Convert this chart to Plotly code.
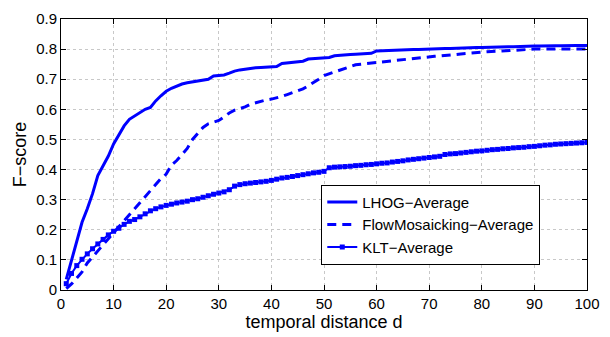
import plotly.graph_objects as go

d = list(range(1, 101))

lhog = [0.035, 0.100, 0.165, 0.225, 0.270, 0.320, 0.380, 0.410, 0.445, 0.485,
        0.515, 0.545, 0.567, 0.578, 0.589, 0.600, 0.606, 0.628, 0.645, 0.660,
        0.670, 0.677, 0.684, 0.688, 0.691, 0.694, 0.697, 0.700, 0.711, 0.712,
        0.714, 0.720, 0.727, 0.731, 0.734, 0.736, 0.738, 0.739, 0.740, 0.741,
        0.742, 0.752, 0.754, 0.756, 0.758, 0.760, 0.767, 0.768, 0.769, 0.770,
        0.772, 0.778, 0.780, 0.781, 0.782, 0.783, 0.784, 0.785, 0.786, 0.794,
        0.795, 0.795, 0.795, 0.796, 0.797, 0.798, 0.799, 0.799, 0.800, 0.800,
        0.801, 0.801, 0.802, 0.802, 0.803, 0.803, 0.804, 0.804, 0.805, 0.805,
        0.806, 0.806, 0.807, 0.807, 0.808, 0.808, 0.809, 0.809, 0.810, 0.810,
        0.810, 0.811, 0.811, 0.811, 0.811, 0.812, 0.812, 0.812, 0.812, 0.812]

flow = [0.005, 0.020, 0.040, 0.060, 0.090, 0.110, 0.130, 0.150, 0.170, 0.190,
        0.210, 0.230, 0.250, 0.270, 0.290, 0.310, 0.330, 0.350, 0.370, 0.385,
        0.415, 0.430, 0.450, 0.470, 0.500, 0.520, 0.540, 0.552, 0.558, 0.563,
        0.575, 0.588, 0.597, 0.603, 0.608, 0.617, 0.622, 0.628, 0.631, 0.634,
        0.638, 0.643, 0.649, 0.655, 0.662, 0.668, 0.678, 0.688, 0.700, 0.712,
        0.718, 0.725, 0.732, 0.738, 0.744, 0.748, 0.750, 0.752, 0.753, 0.755,
        0.757, 0.760, 0.762, 0.764, 0.766, 0.768, 0.769, 0.770, 0.772, 0.774,
        0.776, 0.777, 0.778, 0.780, 0.782, 0.784, 0.786, 0.787, 0.788, 0.790,
        0.791, 0.792, 0.793, 0.794, 0.795, 0.797, 0.799, 0.800, 0.800, 0.800,
        0.800, 0.800, 0.800, 0.800, 0.800, 0.800, 0.800, 0.800, 0.800, 0.800]

klt = [0.021, 0.055, 0.081, 0.102, 0.120, 0.137, 0.153, 0.168, 0.183, 0.195,
       0.205, 0.218, 0.228, 0.234, 0.243, 0.253, 0.263, 0.270, 0.276, 0.281,
       0.285, 0.289, 0.292, 0.295, 0.300, 0.303, 0.308, 0.313, 0.318, 0.322,
       0.326, 0.333, 0.345, 0.350, 0.353, 0.355, 0.357, 0.359, 0.361, 0.364,
       0.368, 0.372, 0.374, 0.377, 0.380, 0.383, 0.386, 0.389, 0.391, 0.394,
       0.406, 0.408, 0.409, 0.410, 0.411, 0.413, 0.414, 0.416, 0.417, 0.419,
       0.421, 0.422, 0.425, 0.427, 0.429, 0.432, 0.434, 0.436, 0.438, 0.440,
       0.442, 0.444, 0.450, 0.452, 0.453, 0.455, 0.457, 0.459, 0.461, 0.462,
       0.464, 0.466, 0.467, 0.469, 0.470, 0.472, 0.473, 0.474, 0.476, 0.477,
       0.479, 0.481, 0.482, 0.484, 0.485, 0.486, 0.487, 0.488, 0.489, 0.490]

names = ["LHOG\u2212Average", "FlowMosaicking\u2212Average", "KLT\u2212Average"]
x_ticks = list(range(0, 101, 10))
y_ticks = [round(0.1 * i, 1) for i in range(10)]
y_ticklabels = ["0"] + [f"{v:.1f}" for v in y_ticks[1:]]

blue = "#0000FF"
FONT = "Liberation Sans, Arial, Helvetica, sans-serif"

fig = go.Figure()
fig.add_trace(go.Scatter(x=d, y=lhog, name=names[0], mode="lines",
                         line=dict(color=blue, width=3)))
fig.add_trace(go.Scatter(x=d, y=flow, name=names[1], mode="lines",
                         line=dict(color=blue, width=3, dash="9px,6px")))
fig.add_trace(go.Scatter(x=d, y=klt, name=names[2], mode="lines+markers",
                         line=dict(color=blue, width=2),
                         marker=dict(symbol="square", size=5, color=blue)))

axis_common = dict(
    showline=True, linecolor="black", linewidth=1, mirror="ticks",
    ticks="inside", ticklen=5, tickcolor="black", tickwidth=1,
    showgrid=True, gridcolor="#c8c8c8", griddash="dot", gridwidth=1,
    zeroline=False, tickfont=dict(family=FONT, size=15, color="black"),
)

fig.update_xaxes(range=[0, 100], tickvals=x_ticks,
                 title=dict(text="temporal distance d",
                            font=dict(family=FONT, size=18, color="black"),
                            standoff=2),
                 **axis_common)
fig.update_yaxes(range=[0, 0.9], tickvals=y_ticks, ticktext=y_ticklabels,
                 title=dict(text="F\u2212score",
                            font=dict(family=FONT, size=18, color="black"),
                            standoff=4),
                 **axis_common)

fig.update_layout(
    width=610, height=337,
    margin=dict(l=61, r=22, t=10, b=43),
    paper_bgcolor="white", plot_bgcolor="white",
    font=dict(family=FONT, color="black"),
    showlegend=True,
    legend=dict(x=0.703, y=0.241, xanchor="center", yanchor="middle",
                bgcolor="white", bordercolor="black", borderwidth=1,
                font=dict(family=FONT, size=15, color="black"),
                tracegroupgap=0, itemwidth=30),
)

fig.write_html("out.html")
